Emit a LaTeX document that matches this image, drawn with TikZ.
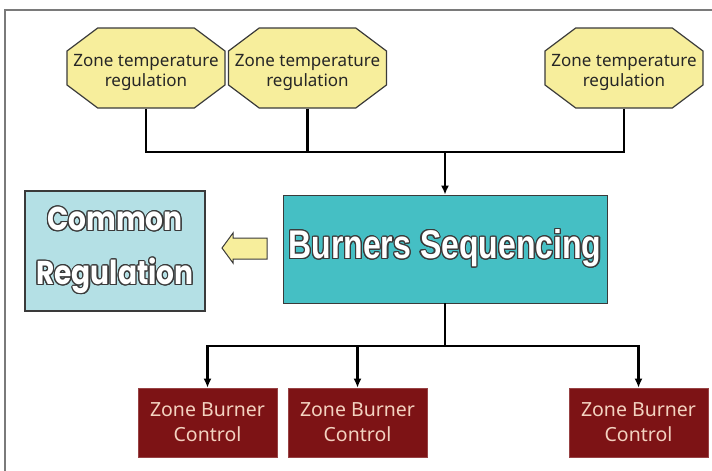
\documentclass[tikz,border=0pt]{standalone}
\usepackage{fontspec}
\usepackage{contour}
\setmainfont{Noto Sans}
\newfontfamily\seqfont[FakeStretch=0.8]{Liberation Sans Bold}
\newfontfamily\commonfont[FakeStretch=0.85]{Poppins Bold}
\usetikzlibrary{shapes.misc,arrows.meta}

\definecolor{zoneyellow}{HTML}{F7EE9C}
\definecolor{seqteal}{HTML}{45BFC4}
\definecolor{commonblue}{HTML}{B4E0E5}
\definecolor{burnerred}{HTML}{7D1315}
\definecolor{burnertext}{HTML}{F3D2C0}
\definecolor{edgegray}{HTML}{3A3A3A}
\definecolor{framegray}{HTML}{7A7A7A}
\contourlength{1.1pt}

\tikzset{
	zonereg/.style={chamfered rectangle, chamfered rectangle angle=53.13,
		chamfered rectangle xsep=32pt, draw=edgegray, line width=1.2pt, fill=zoneyellow,
		minimum width=158, minimum height=80, inner sep=0pt, align=center,
		font=\fontsize{17}{20}\selectfont, text=black!85},
	seqbox/.style={rectangle, draw=edgegray, line width=0.8pt, fill=seqteal,
		minimum width=324, minimum height=108, inner sep=0pt, text=white,
		font=\seqfont\fontsize{40}{48}\selectfont},
	commonbox/.style={rectangle, draw=edgegray, line width=1.2pt, fill=commonblue,
		minimum width=180, minimum height=120, inner sep=0pt, align=center, text=white,
		font=\commonfont\fontsize{33}{54}\selectfont},
	burnerbox/.style={rectangle, draw=burnerred!80!white, line width=0.6pt, fill=burnerred,
		minimum width=139, minimum height=69, inner sep=0pt, align=center,
		text=burnertext, font=\fontsize{19.5}{25}\selectfont},
	bus/.style={line width=2.5pt, black},
	busarrow/.style={bus, -{Latex[length=9pt,width=8pt]}}
}

\begin{document}
\begin{tikzpicture}[x=1pt,y=-1pt]
	\useasboundingbox (0,0) rectangle (712,471);
	\draw[framegray, line width=1.5pt] (5,471) -- (5,10) -- (712,10);
	
	% zone regulations
	\foreach \x/\n in {146/1,307.5/2,624/3}
	{
		\node[zonereg] (z\n) at (\x,68) {\makebox[0pt]{\rule{0pt}{22pt}Zone temperature}\\\makebox[0pt]{regulation}};
	}
	
	% sequencing and common
	\node[seqbox] (seq) at (445,249) {\contour{edgegray}{Burners Sequencing}};
	\node[commonbox] (common) at (115,251) {\contour{edgegray}{Common}\\\contour{edgegray}{Regulation}};
	\filldraw[fill=zoneyellow, draw=edgegray, line width=1pt]
		(222,248) -- (233,233) -- (233,238) -- (267,238) -- (267,259) -- (233,259) -- (233,263) -- cycle;
	
	% burner controls
	\foreach \x/\n in {207.5/1,357.5/2,638.5/3}
	{
		\node[burnerbox] (b\n) at (\x,422.5) {Zone Burner\\Control};
	}
	
	% connections
	\coordinate (topbus) at (seq.north |- 0,152);
	\coordinate (lowbus) at (seq.south |- 0,346);
	\foreach \n in {1,2,3}
	{
		\draw[bus] (z\n.south) |- (topbus);
		\draw[busarrow] (lowbus) -| (b\n.north);
	}
	\draw[busarrow] (topbus) -- (seq.north);
	\draw[bus] (seq.south) -- (lowbus);
\end{tikzpicture}
\end{document}
